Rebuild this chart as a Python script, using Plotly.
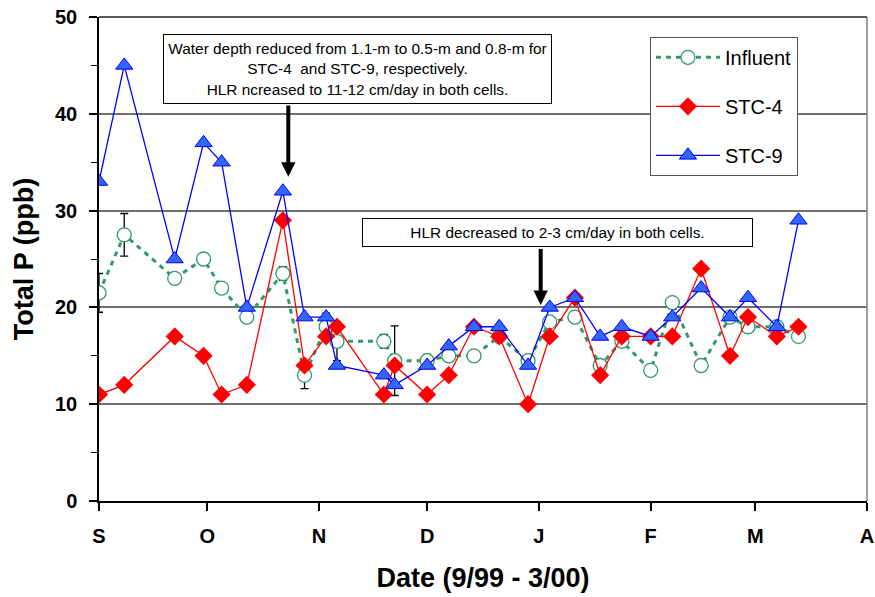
import plotly.graph_objects as go

# Sampling dates (Sep 1999 - Mar 2000)
dates = [
    "1999-09-01", "1999-09-08", "1999-09-22", "1999-09-30", "1999-10-05",
    "1999-10-12", "1999-10-22", "1999-10-28", "1999-11-03", "1999-11-06",
    "1999-11-19", "1999-11-22", "1999-12-01", "1999-12-07", "1999-12-14",
    "1999-12-21", "1999-12-29", "2000-01-04", "2000-01-11", "2000-01-18",
    "2000-01-24", "2000-02-01", "2000-02-07", "2000-02-15", "2000-02-23",
    "2000-02-28", "2000-03-07", "2000-03-13",
]

# Total P (ppb)
influent = [21.5, 27.5, 23.0, 25.0, 22.0, 19.0, 23.5, 13.0, 18.0, 16.5,
            16.5, 14.5, 14.5, 15.0, 15.0, 17.0, 14.5, 18.5, 19.0, 14.0,
            16.5, 13.5, 20.5, 14.0, 19.0, 18.0, 18.0, 17.0]
influent_err = [2.0, 2.2, 0, 0, 0, 0, 0.7, 1.4, 1.4, 2.0,
                0.7, 3.6, 0.65, 0, 0, 0, 0, 0, 0, 0,
                0, 0, 0, 0, 0, 0, 0, 0]
stc4 = [11, 12, 17, 15, 11, 12, 29, 14, 17, 18,
        11, 14, 11, 13, 18, 17, 10, 17, 21, 13,
        17, 17, 17, 24, 15, 19, 17, 18]
stc9 = [33, 45, 25, 37, 35, 20, 32, 19, 19, 14,
        13, 12, 14, 16, 18, 18, 14, 20, 21, 17,
        18, 17, 19, 22, 19, 21, 18, 29]

month_ticks = ["1999-09-01", "1999-10-01", "1999-11-01", "1999-12-01",
               "2000-01-01", "2000-02-01", "2000-03-01", "2000-04-01"]
month_labels = ["S", "O", "N", "D", "J", "F", "M", "A"]

FONT = "Arial, Liberation Sans, sans-serif"

fig = go.Figure()

fig.add_trace(go.Scatter(
    x=dates, y=influent, name="Influent", legendgroup="a",
    mode="lines+markers",
    line=dict(color="#339966", width=3, dash="5px,5px"),
    marker=dict(symbol="circle", size=14, color="white",
                line=dict(color="#339966", width=1.3)),
    error_y=dict(type="data", array=influent_err, color="black",
                 thickness=1.3, width=4),
))
fig.add_trace(go.Scatter(
    x=dates, y=stc4, name="STC-4", legendgroup="b",
    mode="lines+markers",
    line=dict(color="#FF0000", width=1.3),
    marker=dict(symbol="diamond", size=14, color="#FF0000",
                line=dict(color="#FF0000", width=0)),
))
fig.add_trace(go.Scatter(
    x=dates, y=stc9, name="STC-9", legendgroup="c",
    mode="lines+markers",
    line=dict(color="#0000FF", width=1.3),
    marker=dict(symbol="triangle-up", size=15, color="#3366FF",
                line=dict(color="#0000FF", width=1)),
))

annotations = [
    dict(xref="paper", yref="paper", x=0.3366, y=0.8926,
         xanchor="center", yanchor="middle",
         text="Water depth reduced from 1.1-m to 0.5-m and 0.8-m for<br>"
              "STC-4  and STC-9, respectively.<br>"
              "HLR ncreased to 11-12 cm/day in both cells.",
         showarrow=False, font=dict(family=FONT, size=15.4, color="black"),
         bgcolor="white", bordercolor="black", borderwidth=1, borderpad=2,
         width=383, height=64, align="center"),
    dict(xref="paper", yref="paper", x=0.597, y=0.5548,
         xanchor="center", yanchor="middle",
         text="HLR decreased to 2-3 cm/day in both cells.",
         showarrow=False, font=dict(family=FONT, size=15.4, color="black"),
         bgcolor="white", bordercolor="black", borderwidth=1, borderpad=2,
         width=385, height=23, align="center"),
    dict(x="1999-10-23 12:00", y=33.5, xref="x", yref="y",
         ax="1999-10-23 12:00", ay=41.0, axref="x", ayref="y",
         text="", showarrow=True, arrowhead=2, arrowwidth=4,
         arrowsize=0.72, arrowcolor="black", standoff=0),
    dict(x="2000-01-01 12:00", y=20.25, xref="x", yref="y",
         ax="2000-01-01 12:00", ay=26.2, axref="x", ayref="y",
         text="", showarrow=True, arrowhead=2, arrowwidth=4,
         arrowsize=0.72, arrowcolor="black", standoff=0),
]

fig.update_layout(
    width=875, height=597,
    margin=dict(l=99, r=8, t=17, b=96, autoexpand=False),
    paper_bgcolor="white", plot_bgcolor="white",
    font=dict(family=FONT, color="black"),
    showlegend=True,
    legend=dict(
        x=0.7174, y=0.959, xanchor="left", yanchor="top",
        bgcolor="white", bordercolor="#555555", borderwidth=1,
        font=dict(family=FONT, size=20, color="black"),
        tracegroupgap=20, itemwidth=64,
    ),
    annotations=annotations,
    shapes=[
        dict(type="line", xref="paper", yref="paper", x0=1, x1=1, y0=0, y1=1,
             line=dict(color="#808080", width=1.5)),
        dict(type="line", xref="paper", yref="paper", x0=0, x1=1, y0=1, y1=1,
             line=dict(color="#222222", width=1.5)),
    ],
)

fig.update_xaxes(
    type="date", range=["1999-09-01", "2000-04-01"], automargin=False,
    tickmode="array", tickvals=month_ticks, ticktext=month_labels,
    ticks="outside", ticklen=8, tickwidth=1.5, tickcolor="black",
    showgrid=False, zeroline=False,
    showline=True, linecolor="black", linewidth=1.5,
    tickfont=dict(family=FONT, size=20, color="black", weight="bold"),
    ticklabelstandoff=8,
    title=dict(text="<b>Date (9/99 - 3/00)</b>", standoff=22,
               font=dict(family=FONT, size=27, color="black")),
)

fig.update_yaxes(
    range=[0, 50], tickmode="linear", tick0=0, dtick=10, automargin=False,
    ticks="outside", ticklen=8, tickwidth=1.5, tickcolor="black",
    minor=dict(dtick=5, ticks="outside", ticklen=6, tickwidth=1,
               tickcolor="black", showgrid=False),
    showgrid=True, gridcolor="#707070", gridwidth=1.5,
    zeroline=False,
    showline=True, linecolor="black", linewidth=1.5,
    tickfont=dict(family=FONT, size=20, color="black", weight="bold"),
    ticklabelstandoff=8,
    title=dict(text="<b>Total P (ppb)</b>", standoff=14,
               font=dict(family=FONT, size=27, color="black")),
)

fig.write_html("out.html")
